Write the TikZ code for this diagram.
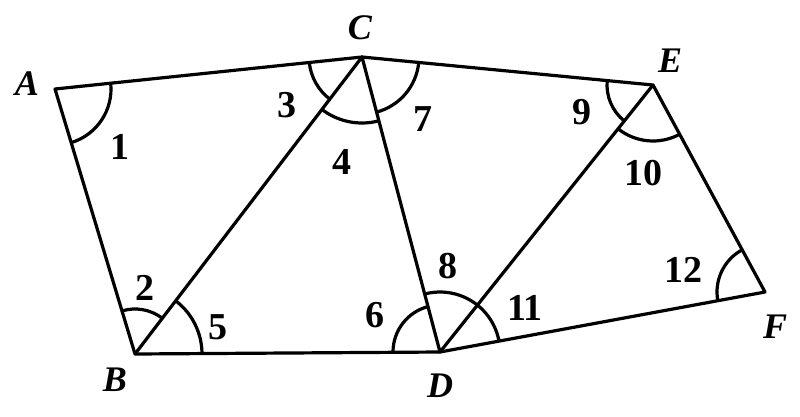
\documentclass[tikz,border=0pt]{standalone}
\usepackage{fontspec}
\setmainfont{Liberation Serif}
\usetikzlibrary{angles}
\begin{document}
\begin{tikzpicture}[x=1pt,y=-1pt,
  edge/.style={line width=3.2pt,line cap=round,line join=round},
  arcmark/.style={draw,line width=3.2pt},
  vlabel/.style={font=\fontsize{36}{36}\selectfont\itshape\bfseries,inner sep=0pt},
  nlabel/.style={font=\fontsize{38}{38}\selectfont\bfseries,inner sep=0pt}]
\useasboundingbox (0,0) rectangle (800,416);
\coordinate (A) at (55,89);
\coordinate (B) at (135,354);
\coordinate (C) at (362,57);
\coordinate (D) at (440,352);
\coordinate (E) at (653,85);
\coordinate (F) at (765,292);
% edges
\draw[edge] (A) -- (C) -- (E) -- (F) -- (D) -- (B) -- cycle;
\draw[edge] (B) -- (C) -- (D) -- (E);
% angle marks
\pic[arcmark,angle radius=56pt] {angle=B--A--C};
\pic[arcmark,angle radius=45pt] {angle=C--B--A};
\pic[arcmark,angle radius=67pt] {angle=D--B--C};
\pic[arcmark,angle radius=53pt] {angle=A--C--B};
\pic[arcmark,angle radius=66pt] {angle=B--C--D};
\pic[arcmark,angle radius=57pt] {angle=D--C--E};
\pic[arcmark,angle radius=47pt] {angle=C--D--B};
\pic[arcmark,angle radius=60pt] {angle=F--D--C};
\pic[arcmark,angle radius=46pt] {angle=C--E--D};
\pic[arcmark,angle radius=56pt] {angle=D--E--F};
\pic[arcmark,angle radius=48pt] {angle=E--F--D};
% vertex labels
\node[vlabel] (lA) at (27,84) {A};
\node[vlabel] (lB) at (115,380) {B};
\node[vlabel] (lC) at (360,28) {C};
\node[vlabel] (lD) at (440,386) {D};
\node[vlabel] (lE) at (670,61) {E};
\node[vlabel] (lF) at (775,327) {F};
% angle labels
\node[nlabel] (n1) at (120,147) {1};
\node[nlabel] (n2) at (145,288) {2};
\node[nlabel] (n3) at (287,105) {3};
\node[nlabel] (n4) at (342,162) {4};
\node[nlabel] (n5) at (218,327) {5};
\node[nlabel] (n6) at (375,315) {6};
\node[nlabel] (n7) at (423,119) {7};
\node[nlabel] (n8) at (448,266) {8};
\node[nlabel] (n9) at (582,112) {9};
\node[nlabel] (n10) at (643,173) {10};
\node[nlabel] (n11) at (525,308) {11};
\node[nlabel] (n12) at (683,270) {12};
\end{tikzpicture}
\end{document}
